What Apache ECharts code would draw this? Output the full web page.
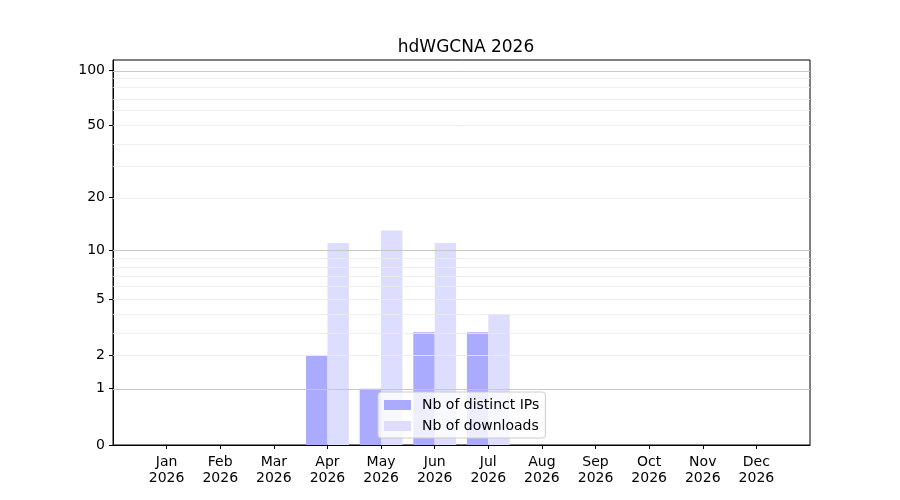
<!DOCTYPE html>
<html>
<head>
<meta charset="utf-8">
<script src="https://cdn.jsdelivr.net/npm/echarts@6/dist/echarts.min.js"></script>
<style>
  html, body { margin: 0; padding: 0; background: #fff; }
  #chart { width: 900px; height: 500px; }
</style>
</head>
<body>
<div id="chart"></div>
<script>
var months = ['Jan', 'Feb', 'Mar', 'Apr', 'May', 'Jun', 'Jul', 'Aug', 'Sep', 'Oct', 'Nov', 'Dec'];
var year = '2026';
var distinctIps = [0, 0, 0, 2, 1, 3, 3, 0, 0, 0, 0, 0];
var downloads = [0, 0, 0, 11, 13, 11, 4, 0, 0, 0, 0, 0];
var yTicks = [0, 1, 2, 5, 10, 20, 50, 100];
var majorLines = [1, 10, 100];
var minorLines = [2, 3, 4, 5, 6, 7, 8, 9, 20, 30, 40, 50, 60, 70, 80, 90];

// y axis is log10(1 + n)
function fwd(v) { return Math.log10(1 + v); }
function inv(t) { return Math.round(Math.pow(10, t) - 1); }

function toPoints(arr) {
  return arr.map(function (v, i) { return [i, fwd(v)]; });
}

var font = 'DejaVu Sans';
var monthPos = months.map(function (m, i) { return i; });
var gridLines = minorLines.map(function (v) {
  return { yAxis: fwd(v), lineStyle: { color: '#ebebeb', width: 0.8, type: 'solid' } };
}).concat(majorLines.map(function (v) {
  return { yAxis: fwd(v), lineStyle: { color: '#c8c8c8', width: 1, type: 'solid' } };
}));

var chart = echarts.init(document.getElementById('chart'));
chart.setOption({
  animation: false,
  title: {
    text: 'hdWGCNA ' + year,
    left: 461,
    top: 34,
    textAlign: 'center',
    textStyle: { fontFamily: font, fontSize: 17, fontWeight: 'normal', color: '#000' }
  },
  legend: {
    orient: 'vertical',
    left: 378,
    top: 392,
    padding: [6, 6, 5, 6],
    itemGap: 7,
    itemWidth: 27,
    itemHeight: 10,
    icon: 'rect',
    backgroundColor: 'rgba(255,255,255,0.8)',
    borderColor: '#cccccc',
    borderWidth: 1,
    borderRadius: 3,
    textStyle: { fontFamily: font, fontSize: 14, color: '#000', padding: [0, 0, 0, 6] },
    data: ['Nb of distinct IPs', 'Nb of downloads']
  },
  grid: {
    left: 113, right: 90, top: 60, bottom: 55,
    show: true, borderColor: '#000', borderWidth: 1, backgroundColor: 'transparent'
  },
  xAxis: {
    type: 'value',
    min: -1,
    max: 12,
    interval: 1,
    splitLine: { show: false },
    axisLine: { show: true, onZero: false, lineStyle: { color: '#000' } },
    axisTick: { show: true, length: 4, customValues: monthPos, lineStyle: { color: '#000' } },
    axisLabel: {
      customValues: monthPos,
      fontFamily: font, fontSize: 14, color: '#000', lineHeight: 16, margin: 9,
      formatter: function (v) { return (v >= 0 && v < 12) ? months[v] + '\n' + year : ''; }
    }
  },
  yAxis: {
    type: 'value',
    min: 0,
    max: 2.058,
    splitLine: { show: false },
    axisLine: { show: true, onZero: false, lineStyle: { color: '#000' } },
    axisTick: { show: true, length: 4, customValues: yTicks.map(fwd), lineStyle: { color: '#000' } },
    axisLabel: {
      customValues: yTicks.map(fwd),
      fontFamily: font, fontSize: 14, color: '#000', margin: 8,
      formatter: function (t) { return String(inv(t)); }
    }
  },
  series: [
    {
      name: 'Nb of distinct IPs',
      type: 'bar',
      barWidth: 21.4,
      barGap: '0%',
      itemStyle: { color: '#aaaaff' },
      data: toPoints(distinctIps),
      markLine: {
        silent: true,
        symbol: 'none',
        label: { show: false },
        z: 5,
        data: gridLines
      }
    },
    {
      name: 'Nb of downloads',
      type: 'bar',
      barWidth: 21.4,
      barGap: '0%',
      itemStyle: { color: '#ddddff' },
      data: toPoints(downloads)
    }
  ]
});
</script>
</body>
</html>
